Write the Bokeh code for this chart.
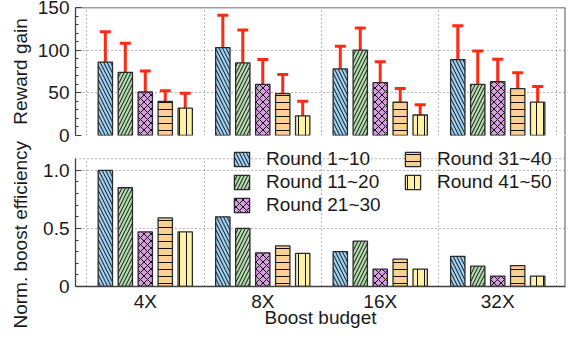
from bokeh.plotting import figure
from bokeh.models import (ColumnDataSource, FixedTicker, Whisker, TeeHead, Legend,
                          LegendItem, Span)
from bokeh.layouts import column
from bokeh.embed import file_html
from bokeh.resources import INLINE

budgets = ["4X", "8X", "16X", "32X"]
rounds = ["Round 1~10", "Round 11~20", "Round 21~30", "Round 31~40", "Round 41~50"]

# Reward gain (top panel)
gain_r1 = [86, 103, 78, 89]
gain_r2 = [74, 85, 100, 60]
gain_r3 = [51, 60, 62, 63]
gain_r4 = [40, 49, 39, 55]
gain_r5 = [32, 23, 24, 39]

gain_lo_r1 = [52, 65, 52, 50]
gain_hi_r1 = [121.5, 141, 104.5, 128.5]
gain_lo_r2 = [38, 47, 74, 21]
gain_hi_r2 = [108, 123.5, 126, 99]
gain_lo_r3 = [27, 31.5, 36, 35.5]
gain_hi_r3 = [75.5, 89, 86.5, 89.5]
gain_lo_r4 = [28.5, 27, 23, 37]
gain_hi_r4 = [52.5, 71.5, 55, 73.5]
gain_lo_r5 = [15, 5.5, 12, 21.5]
gain_hi_r5 = [49.5, 40, 36, 57.5]

# Normalized boost efficiency (bottom panel)
eff_r1 = [1.0, 0.60, 0.30, 0.26]
eff_r2 = [0.85, 0.50, 0.39, 0.175]
eff_r3 = [0.47, 0.29, 0.15, 0.09]
eff_r4 = [0.59, 0.35, 0.235, 0.18]
eff_r5 = [0.47, 0.285, 0.15, 0.09]

gain = [gain_r1, gain_r2, gain_r3, gain_r4, gain_r5]
gain_lo = [gain_lo_r1, gain_lo_r2, gain_lo_r3, gain_lo_r4, gain_lo_r5]
gain_hi = [gain_hi_r1, gain_hi_r2, gain_hi_r3, gain_hi_r4, gain_hi_r5]
eff = [eff_r1, eff_r2, eff_r3, eff_r4, eff_r5]

colors = ["#9fd1f4", "#b3dbae", "#d69ddf", "#fbd192", "#fdf2a5"]
hatches = ["\\", "/", "x", "-", "|"]
RED = "#ff2a12"
FONT = "Liberation Sans"
FS = "19px"
AX = "#404040"
GRID = "#6a6a6a"
TXT = "#1a1a1a"

XR = (-0.594, 3.577)
OFF = 0.17
BW = 0.122
idx = list(range(len(budgets)))


def style(p):
    p.outline_line_color = None
    for ax in p.yaxis:
        ax.axis_line_color = AX
        ax.axis_line_width = 1.3
        ax.major_tick_in = 6
        ax.major_tick_out = 0
        ax.minor_tick_in = 3
        ax.minor_tick_out = 0
        ax.major_tick_line_color = AX
        ax.minor_tick_line_color = AX
        ax.major_label_text_font = FONT
        ax.major_label_text_font_size = FS
        ax.major_label_text_color = TXT
        ax.major_label_standoff = 6
        ax.axis_label_text_font = FONT
        ax.axis_label_text_font_size = FS
        ax.axis_label_text_font_style = "normal"
        ax.axis_label_text_color = TXT
    p.ygrid.grid_line_color = GRID
    p.ygrid.grid_line_dash = "1 3"
    p.ygrid.grid_line_width = 1
    p.xgrid.grid_line_color = GRID
    p.xgrid.grid_line_dash = "1 3"
    p.xgrid.grid_line_width = 1
    p.xgrid.ticker = FixedTicker(ticks=[i - 0.5 for i in range(len(budgets) + 1)])
    p.add_layout(Span(location=XR[1], dimension="height", line_color="#555555", line_width=2))


# ---------------- top panel ----------------
top = figure(width=575, height=150, frame_width=490, frame_height=128,
             x_range=XR, y_range=(0, 150), output_backend="svg", toolbar_location=None,
             min_border_left=75, min_border_right=10, min_border_top=7, min_border_bottom=15)
style(top)
top.background_fill_color = "white"
top.border_fill_color = "white"
top.xaxis.visible = False
top.yaxis.ticker = FixedTicker(ticks=[0, 50, 100, 150],
                               minor_ticks=[v for v in range(10, 150, 10) if v % 50])
top.yaxis.axis_label = "Reward gain"
top.yaxis.axis_label_standoff = 4
top.add_layout(Span(location=150, dimension="width", line_color=AX, line_width=1.5))

for i in range(5):
    xs = [k + (i - 2) * OFF for k in idx]
    top.vbar(x=xs, top=gain[i], width=BW, bottom=0, fill_color=colors[i],
             line_color="#2a2a2a", line_width=1.3, hatch_pattern=hatches[i],
             hatch_color="#111111", hatch_scale=7, hatch_weight=1)
for i in range(5):
    xs = [k + (i - 2) * OFF for k in idx]
    src = ColumnDataSource(dict(x=xs, lo=gain_lo[i], hi=gain_hi[i]))
    top.add_layout(Whisker(source=src, base="x", lower="lo", upper="hi",
                           line_color=RED, line_width=3,
                           upper_head=TeeHead(size=11, line_color=RED, line_width=3),
                           lower_head=TeeHead(size=11, line_color=RED, line_width=3)))

# ---------------- bottom panel ----------------
bot = figure(width=575, height=249, frame_width=490, frame_height=151,
             x_range=XR, y_range=(0, 1.3), output_backend="svg", toolbar_location=None,
             min_border_left=75, min_border_right=10, min_border_top=45, min_border_bottom=53,
             margin=(-60, 0, 0, 0))
style(bot)
bot.border_fill_alpha = 0
bot.background_fill_alpha = 0
bot.xgrid.cross_bounds = (0, 1.1)
bot.yaxis.ticker = FixedTicker(ticks=[0, 0.5, 1.0],
                               minor_ticks=[0.1, 0.2, 0.3, 0.4, 0.6, 0.7, 0.8, 0.9])
bot.yaxis.major_label_overrides = {0: "0", 0.5: "0.5", 1: "1.0"}
bot.yaxis.bounds = (0, 1.1)
bot.yaxis.axis_label = "Norm. boost efficiency" + "\u00a0" * 9
bot.yaxis.axis_label_standoff = 9
bot.add_layout(Span(location=1.1, dimension="width", line_color=GRID,
                    line_dash="1 3", line_width=1))

xa = bot.xaxis[0]
xa.ticker = FixedTicker(ticks=idx)
xa.major_label_overrides = {k: budgets[k] for k in idx}
xa.axis_line_color = AX
xa.axis_line_width = 1.5
xa.major_tick_line_color = None
xa.minor_tick_line_color = None
xa.major_label_text_font = FONT
xa.major_label_text_font_size = FS
xa.major_label_text_color = TXT
xa.major_label_standoff = -2
xa.axis_label = "Boost budget"
xa.axis_label_text_font = FONT
xa.axis_label_text_font_size = FS
xa.axis_label_text_font_style = "normal"
xa.axis_label_text_color = TXT
xa.axis_label_standoff = -8

items = []
for i in range(5):
    xs = [k + (i - 2) * OFF for k in idx]
    r = bot.vbar(x=xs, top=eff[i], width=BW, bottom=0, fill_color=colors[i],
                 line_color="#2a2a2a", line_width=1.3, hatch_pattern=hatches[i],
                 hatch_color="#111111", hatch_scale=7, hatch_weight=1)
    items.append(LegendItem(label=rounds[i], renderers=[r]))

leg = Legend(items=items, location=(157, 70), orientation="vertical", nrows=3,
             glyph_width=19, glyph_height=18, label_standoff=15, label_width=137,
             label_height=23, spacing=0, padding=0, margin=0,
             border_line_color=None, background_fill_alpha=0,
             label_text_font=FONT, label_text_font_size=FS, label_text_color=TXT)
bot.add_layout(leg)

layout = column(top, bot, spacing=0)
open("out.html", "w").write(file_html(layout, INLINE))
